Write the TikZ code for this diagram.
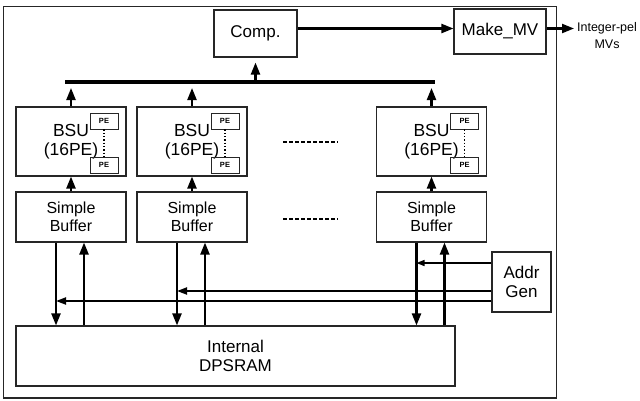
\documentclass[tikz,border=0pt]{standalone}
\usepackage{fontspec}
\setmainfont{Liberation Sans}
\usetikzlibrary{arrows.meta,calc}
\begin{document}
\begin{tikzpicture}[x=1pt,y=-1pt,
  box/.style={draw=black!85, line width=1.1pt, inner sep=0pt, align=center, font=\fontsize{17}{19}\selectfont},
  bufbox/.style={box, minimum width=110pt, minimum height=50pt, font=\fontsize{16}{18.5}\selectfont},
  bsubox/.style={box, minimum width=110pt, minimum height=69pt, font=\fontsize{17.5}{19.5}\selectfont},
  pebox/.style={draw=black!85, line width=0.9pt, inner sep=0pt, minimum width=28pt, minimum height=16pt, font=\fontsize{7.5}{9}\selectfont\bfseries},
  arr/.style={line width=2.2pt, -{Triangle[length=12pt,width=9pt]}},
  harr/.style={line width=2pt, -{Triangle[length=10pt,width=7pt]}},
  tharr/.style={line width=1.4pt, -{Triangle[length=8pt,width=6pt]}},
  dotl/.style={line width=1.3pt, dotted},
  dashl/.style={line width=1.3pt, dash pattern=on 4pt off 2pt},
]
\path[use as bounding box] (0,0) rectangle (640,400);
\draw[line width=1.2pt, black!85] (3.5,6.5) rectangle (556.5,398);

% top row
\node[box, minimum width=83pt, minimum height=47pt] (comp) at (255.5,33.5) {Comp.};
\node[box, minimum width=92pt, minimum height=45pt] (mv) at (500,31.5) {Make\_MV};
\node[font=\fontsize{12.5}{17}\selectfont, align=center, inner sep=0pt] (out) at (607,36) {Integer-pel\\MVs};
\coordinate (ly) at (0,28.5);
\coordinate (outtip) at (574,28.5);
\draw[arr] (comp.east |- ly) -- (mv.west |- ly);
\draw[arr] (mv.east |- ly) -- (outtip);

% bus
\coordinate (busL) at (65,82);
\coordinate (busR) at (435,82);
\coordinate (busB) at (0,88);
\draw[line width=4.5pt] (busL) -- (busR);
\draw[arr] (comp.south |- busL) -- ([yshift=-5pt]comp.south);

% BSUs
\foreach \i/\x in {1/71,2/192,3/431.5}{
  \node[bsubox] (bsu\i) at (\x,141.5) {BSU\\(16PE)};
  \node[pebox] (pt\i) at ($(bsu\i.center)+(33,-20.5)$) {PE};
  \node[pebox] (pb\i) at ($(bsu\i.center)+(33,23.5)$) {PE};
  \draw[dotl] (pt\i.south) -- (pb\i.north);
  \draw[arr] (bsu\i.north) -- (bsu\i.north |- busB);
  \node[bufbox] (buf\i) at (\x,217) {Simple\\Buffer};
  \draw[arr] (buf\i.north) -- (bsu\i.south);
  \coordinate (d\i) at ([xshift=-15pt]buf\i.south);
  \coordinate (u\i) at ([xshift=13pt]buf\i.south);
}

% dashes
\coordinate (ds1) at (283,142);
\coordinate (de1) at (338,142);
\coordinate (ds2) at (283,219);
\coordinate (de2) at (338,219);
\draw[dashl] (ds1) -- (de1);
\draw[dashl] (ds2) -- (de2);

% memory and address generator
\node[box, minimum width=439pt, minimum height=60pt] (dp) at (235.5,356) {Internal\\DPSRAM};
\node[box, minimum width=59pt, minimum height=60pt] (addr) at (521.5,282) {Addr\\Gen};

\foreach \i in {1,2,3}{
  \draw[arr] (d\i) -- (d\i |- dp.north);
  \draw[arr] (u\i |- dp.north) -- (u\i);
}

\coordinate (a1) at ([yshift=19pt]addr.west);
\coordinate (a2) at ([yshift=-9pt]addr.west);
\coordinate (a3) at ([yshift=-19pt]addr.west);
\draw[tharr] (a1) -- (a1 -| d3);
\draw[harr] (a2) -- (a2 -| d2);
\draw[harr] (a3) -- (a3 -| d1);
\end{tikzpicture}
\end{document}
